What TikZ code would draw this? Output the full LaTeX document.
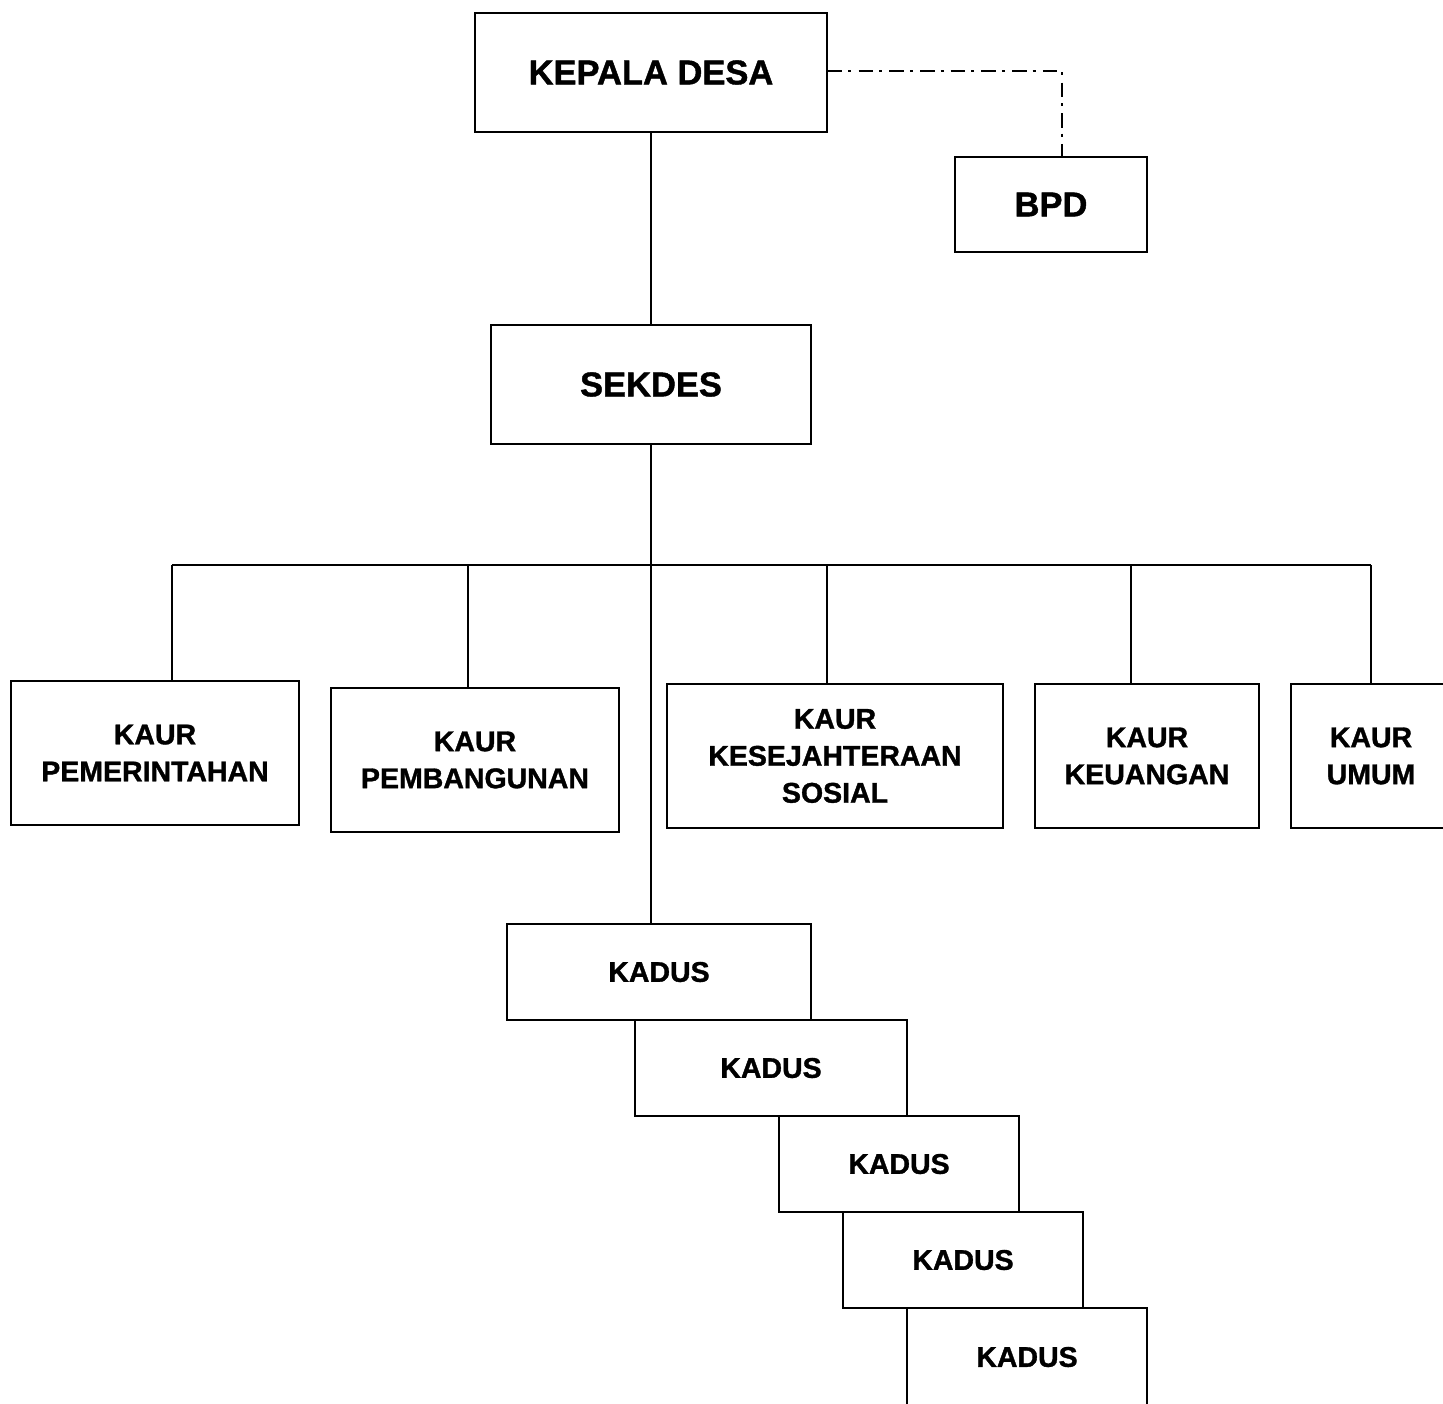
\documentclass[tikz,border=0pt]{standalone}
\usepackage{fontspec}
\setmainfont{Liberation Sans}[BoldFeatures={FakeBold=1.2}]
\begin{document}
\begin{tikzpicture}[x=1pt,y=-1pt,
  box/.style={draw, line width=1.8pt, inner sep=0pt, align=center, font=\bfseries\fontsize{28.5}{37}\selectfont},
  bigbox/.style={box, font=\bfseries\fontsize{34.5}{40}\selectfont},
  conn/.style={line width=1.8pt},
  dashdot/.style={line width=1.8pt, dash pattern=on 14.5pt off 6pt on 3pt off 7.2pt}]
\useasboundingbox (0,0) rectangle (1443,1403);
\clip (0,0) rectangle (1443,1403);
% top
\node[bigbox, minimum width=352pt, minimum height=119pt] (kd) at (651,72.5) {KEPALA DESA};
\node[bigbox, minimum width=192pt, minimum height=95pt] (bpd) at (1051,204.5) {BPD};
\node[bigbox, minimum width=320pt, minimum height=119pt] (sek) at (651,384.5) {SEKDES};
% kaur
\node[box, minimum width=288pt, minimum height=144pt] (k1) at (155,753) {KAUR\\PEMERINTAHAN};
\node[box, minimum width=288pt, minimum height=144pt] (k2) at (475,760) {KAUR\\PEMBANGUNAN};
\node[box, minimum width=336pt, minimum height=144pt] (k3) at (835,756) {KAUR\\KESEJAHTERAAN\\SOSIAL};
\node[box, minimum width=224pt, minimum height=144pt] (k4) at (1147,756) {KAUR\\KEUANGAN};
\node[box, minimum width=160pt, minimum height=144pt] (k5) at (1371,756) {KAUR\\UMUM};
% kadus
\node[box, minimum width=304pt, minimum height=96pt] (d1) at (659,972) {KADUS};
\node[box, minimum width=272pt, minimum height=96pt] (d2) at (771,1068) {KADUS};
\node[box, minimum width=240pt, minimum height=96pt] (d3) at (899,1164) {KADUS};
\node[box, minimum width=240pt, minimum height=96pt] (d4) at (963,1260) {KADUS};
\node[box, minimum width=240pt, minimum height=98pt] (d5) at (1027,1357) {KADUS};
% connectors
\coordinate (bc) at (1062,71);
\draw[dashdot] (kd.east |- bc) -- (bc) -- (bc |- bpd.north);
\draw[conn] (kd.south) -- (sek.north);
\draw[conn] (sek.south) -- (sek.south |- d1.north);
\coordinate (b1) at (172,565);
\coordinate (b2) at (468,565);
\coordinate (b4) at (827,565);
\coordinate (b5) at (1131,565);
\coordinate (b6) at (1371,565);
\draw[conn] (b1) -- (b6);
\draw[conn] (b1) -- (b1 |- k1.north);
\draw[conn] (b2) -- (b2 |- k2.north);
\draw[conn] (b4) -- (b4 |- k3.north);
\draw[conn] (b5) -- (b5 |- k4.north);
\draw[conn] (b6) -- (k5.north);
\end{tikzpicture}
\end{document}
